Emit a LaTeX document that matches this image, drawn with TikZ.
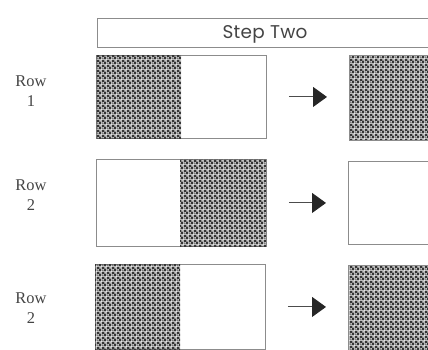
\documentclass[tikz,border=0pt]{standalone}
\usepackage{fontspec}
\setmainfont{Liberation Serif}
\newfontfamily\geofont[LetterSpace=1.5]{Poppins}
\usetikzlibrary{arrows.meta,patterns}
\pgfdeclarepatternformonly{finegrid}{\pgfpointorigin}{\pgfqpoint{4.6bp}{4.6bp}}{\pgfqpoint{4.6bp}{4.6bp}}{%
  \pgfseteorule
  \pgfpathrectangle{\pgfpointorigin}{\pgfqpoint{4.6bp}{4.6bp}}%
  \pgfpathrectangle{\pgfqpoint{0.3bp}{0.3bp}}{\pgfqpoint{1.7bp}{1.7bp}}%
  \pgfpathrectangle{\pgfqpoint{2.6bp}{2.6bp}}{\pgfqpoint{1.7bp}{1.7bp}}%
  \pgfusepath{fill}}
\definecolor{boxline}{HTML}{8C8C8C}
\definecolor{txt}{HTML}{444444}
\definecolor{chk}{HTML}{353535}
\begin{document}
\begin{tikzpicture}[x=1bp,y=-1bp,
  frame/.style={draw=boxline, line width=0.9bp, fill=white, inner sep=0pt, anchor=north west},
  checks/.style={pattern=finegrid, pattern color=chk, inner sep=0pt, anchor=north west},
  rowlabel/.style={text=txt, font=\fontsize{16.5}{20}\selectfont, align=center},
  flow/.style={draw=black!70, line width=1bp, -{Triangle[length=14bp,width=20bp,color=black!85,fill=black!85]}, shorten <=22bp, shorten >=22bp}]
\useasboundingbox (0,0) rectangle (428,350);
\clip (0,0) rectangle (428,350);

% header
\node[frame, minimum width=350bp, minimum height=29bp] (step) at (97,18) {};
\node[text=txt, font=\geofont\fontsize{18.5}{21}\selectfont, inner sep=0pt] (steplabel) at (265,34) {Step Two};

% row 1
\node[frame, minimum width=170bp, minimum height=83bp] (a1) at (96,55) {};
\node[checks, minimum width=85bp, minimum height=83bp] (a1c) at (96,55) {};
\node[frame, checks, minimum width=100bp, minimum height=85bp] (b1) at (349,55) {};
\draw[flow] (a1.east) -- (a1.east -| b1.west);
\node[rowlabel] (r1) at (31,91) {Row\\1};

% row 2
\node[frame, minimum width=170bp, minimum height=87bp] (a2) at (96,159) {};
\node[checks, minimum width=86bp, minimum height=87bp] (a2c) at (180,159) {};
\node[frame, minimum width=100bp, minimum height=83bp] (b2) at (348,161) {};
\draw[flow] (a2.east) -- (a2.east -| b2.west);
\node[rowlabel] (r2) at (31,195) {Row\\2};

% row 3
\node[frame, minimum width=170bp, minimum height=85bp] (a3) at (95,264) {};
\node[checks, minimum width=85bp, minimum height=85bp] (a3c) at (95,264) {};
\node[frame, checks, minimum width=100bp, minimum height=95bp] (b3) at (348,265) {};
\draw[flow] (a3.east) -- (a3.east -| b3.west);
\node[rowlabel] (r3) at (31,308) {Row\\2};
\end{tikzpicture}
\end{document}
